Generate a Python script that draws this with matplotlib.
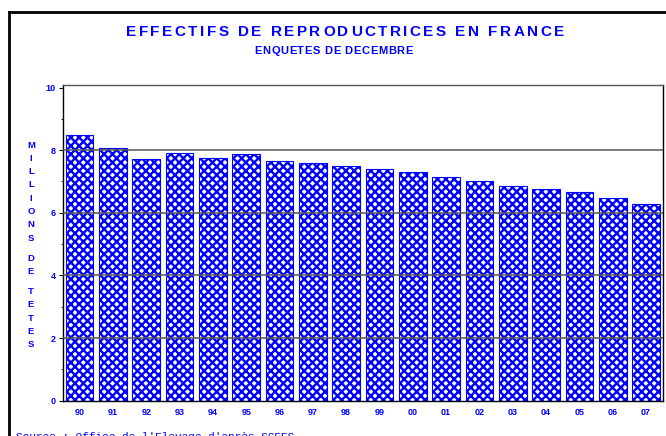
import matplotlib
matplotlib.use("Agg")
from matplotlib import pyplot as plt
from matplotlib.lines import Line2D
from matplotlib.ticker import MultipleLocator

years = ['90', '91', '92', '93', '94', '95', '96', '97', '98',
         '99', '00', '01', '02', '03', '04', '05', '06', '07']
effectifs = [8.48, 8.07, 7.72, 7.92, 7.74, 7.88, 7.65, 7.59, 7.50,
             7.40, 7.30, 7.14, 7.01, 6.84, 6.75, 6.67, 6.47, 6.27]
ylabel_words = ['MILLIONS', 'DE', 'TETES']

TITLE = 'EFFECTIFS DE REPRODUCTRICES EN FRANCE'
SUBTITLE = 'ENQUETES DE DECEMBRE'
SOURCE = "Source : Office de l'Elevage d'après SCEES"

W, H = 666, 436
BLUE = '#0000ff'

plt.rcParams.update({
    'font.family': 'Liberation Sans',
    'hatch.linewidth': 1.7,
    'hatch.color': BLUE,
})


def fx(px):
    return px / W


def fy(py):
    return 1 - py / H


def char_width(fig, r, ch, **kw):
    t1 = fig.text(0, 0, 'H' + ch + 'H', **kw)
    t2 = fig.text(0, 0, 'HH', **kw)
    w = t1.get_window_extent(r).width - t2.get_window_extent(r).width
    t1.remove()
    t2.remove()
    return w


def spaced_text(fig, s, xc, y, extra, **kw):
    # texte avec espacement des lettres, centre en xc (pixels)
    r = fig.canvas.get_renderer()
    widths = [char_width(fig, r, ch, **kw) for ch in s]
    total = sum(widths) + extra * (len(s) - 1)
    x = xc - total / 2
    for ch, w in zip(s, widths):
        if ch != ' ':
            fig.text(fx(x), fy(y), ch, ha='left', va='baseline', **kw)
        x += w + extra


fig = plt.figure(figsize=(W / 100, H / 100), dpi=100)
ax = fig.add_axes([fx(63), fy(400.7), fx(662.7 - 63), (400.7 - 85) / H])

ax.bar(range(len(years)), effectifs, width=0.83, color='white',
       edgecolor=BLUE, hatch='xxxx', linewidth=0.8, zorder=1)

ax.set_xlim(-0.5, len(years) - 0.5)
ax.set_ylim(0, 10.08)
ax.yaxis.set_major_locator(MultipleLocator(2))
ax.yaxis.set_minor_locator(MultipleLocator(1))
ax.set_xticks(range(len(years)))
ax.set_xticklabels(years)
for y in [2, 4, 6, 8]:
    ax.axhline(y, color='#555555', linewidth=1.1, zorder=3)

ax.tick_params(axis='x', length=0, pad=5.5, labelsize=6.5, labelcolor=BLUE)
ax.tick_params(axis='y', which='major', length=2.7, width=0.8, pad=2.5,
               labelsize=6.5, labelcolor=BLUE, direction='out')
ax.tick_params(axis='y', which='minor', length=1.5, width=0.6, direction='out')
for lab in ax.get_xticklabels() + ax.get_yticklabels():
    lab.set_fontweight('bold')

for side in ['left', 'bottom', 'right']:
    ax.spines[side].set_color('black')
    ax.spines[side].set_linewidth(1.0)
ax.spines['top'].set_color('#555555')
ax.spines['top'].set_linewidth(1.0)

# titre
spaced_text(fig, TITLE, 345, 36.3, 2.5, fontsize=11, fontweight='bold', color=BLUE)
spaced_text(fig, SUBTITLE, 333.5, 54, 0.6, fontsize=8, fontweight='bold', color=BLUE)

# libelle vertical de l'axe y
ypos = 145
for i, word in enumerate(ylabel_words):
    if i > 0:
        ypos += 6.7
    for ch in word:
        fig.text(fx(31), fy(ypos), ch, ha='center', va='center', fontsize=6.8,
                 fontweight='bold', color=BLUE)
        ypos += 13.3

# source (coupee en bas, comme sur l'original)
fig.text(fx(16.5), fy(439.5), SOURCE, ha='left', va='baseline', fontsize=8,
         family='Liberation Mono', color=BLUE)

# cadre
fig.add_artist(Line2D([fx(9), fx(9)], [fy(12), 0], color='black', linewidth=2.0))
fig.add_artist(Line2D([fx(9), 1], [fy(12), fy(12)], color='black', linewidth=2.0))

fig.savefig('out.png', dpi=100)
